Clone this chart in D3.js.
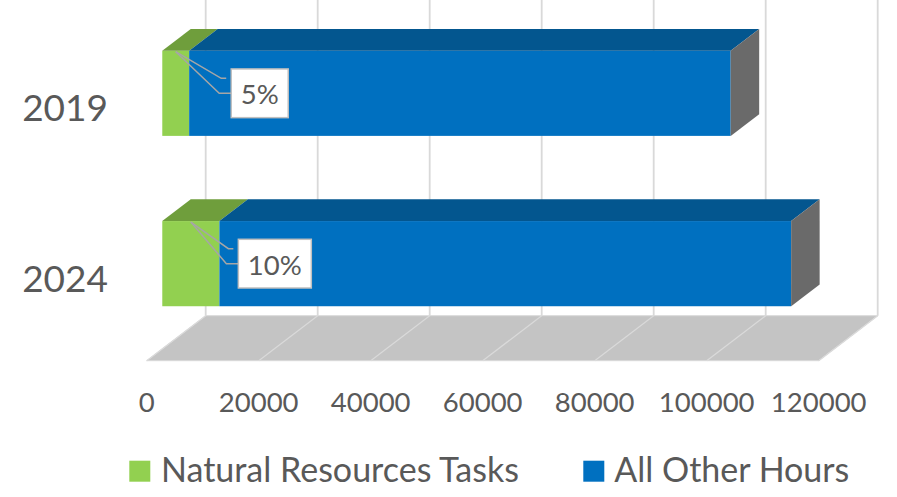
<!DOCTYPE html>
<html>
<head>
<meta charset="utf-8">
<script src="https://cdn.jsdelivr.net/npm/d3@7"></script>
<style>
  body { margin: 0; background: #fff; }
  text { font-family: Lato, "Open Sans", sans-serif; fill: #595959; }
</style>
</head>
<body>
<div id="chart"></div>
<script>
// chart data
const categories = ["2019", "2024"];
const seriesNames = ["Natural Resources Tasks", "All Other Hours"];
const naturalHours = [4800, 10200];
const otherHours = [96700, 102100];
const pctLabels = ["5%", "10%"];
const xTicks = [0, 20000, 40000, 60000, 80000, 100000, 120000];

const W = 897, H = 497;
const DX = 59, DY = -45; // oblique offset of full depth
const d0 = 0.264, d1 = 0.747; // bar depth inside the box
const floorY = 360.7;

const svg = d3.select("#chart").append("svg")
    .attr("width", W).attr("height", H);

const x = d3.scaleLinear().domain([0, 120000]).range([146.7, 818.7]);
const y = d3.scaleBand().domain(categories).range([20, floorY])
    .paddingInner(0.5).paddingOuter(0.25);

// project value / screen-y / depth to screen point
function P(v, yy, d) { return [x(v) + d * DX, yy + d * DY]; }
const pts = arr => arr.map(p => p.join(",")).join(" ");

// floor
svg.append("polygon")
    .attr("points", pts([P(0, floorY, 0), P(120000, floorY, 0), P(120000, floorY, 1), P(0, floorY, 1)]))
    .attr("fill", "#c4c4c4").attr("stroke", "#d9d9d9").attr("stroke-width", 1);

// floor gridlines
svg.selectAll(".fgrid").data(xTicks).enter().append("line")
    .attr("x1", d => P(d, floorY, 0)[0]).attr("y1", d => P(d, floorY, 0)[1])
    .attr("x2", d => P(d, floorY, 1)[0]).attr("y2", d => P(d, floorY, 1)[1])
    .attr("stroke", "#dadada").attr("stroke-width", 1.2);

// back wall gridlines
svg.selectAll(".wgrid").data(xTicks).enter().append("line")
    .attr("x1", d => P(d, floorY, 1)[0]).attr("y1", d => P(d, floorY, 1)[1])
    .attr("x2", d => P(d, 20, 1)[0]).attr("y2", d => P(d, 20, 1)[1])
    .attr("stroke", "#d9d9d9").attr("stroke-width", 1.8);

// bars
const colors = [
    {front: "#92d050", top: "#6f9e3c"},
    {front: "#0070c0", top: "#03568f"}
];
categories.forEach((c, i) => {
    let yb = y(c), bw = y.bandwidth();
    let segs = [[0, naturalHours[i]], [naturalHours[i], naturalHours[i] + otherHours[i]]];
    let g = svg.append("g");
    segs.forEach((s, k) => {
        let a = P(s[0], yb, d0), b = P(s[1], yb + bw, d0);
        g.append("rect")
            .attr("x", a[0]).attr("y", a[1])
            .attr("width", b[0] - a[0]).attr("height", b[1] - a[1])
            .attr("fill", colors[k].front);
        g.append("polygon")
            .attr("points", pts([P(s[0], yb, d0), P(s[1], yb, d0), P(s[1], yb, d1), P(s[0], yb, d1)]))
            .attr("fill", colors[k].top);
    });
    let e = segs[1][1];
    g.append("polygon")
        .attr("points", pts([P(e, yb, d0), P(e, yb, d1), P(e, yb + bw, d1), P(e, yb + bw, d0)]))
        .attr("fill", "#6a6a6a");
});

// category labels
svg.selectAll(".cat").data(categories).enter().append("text")
    .attr("x", 108)
    .attr("y", d => y(d) + y.bandwidth() / 2 + 1.5)
    .attr("dominant-baseline", "central")
    .attr("text-anchor", "end")
    .style("font-size", "37px")
    .text(d => d);

// value axis labels
svg.selectAll(".tick").data(xTicks).enter().append("text")
    .attr("x", d => x(d))
    .attr("y", 411.7)
    .attr("text-anchor", "middle")
    .style("font-size", "27.5px")
    .text(d => d);

// data labels with leader lines
categories.forEach((c, i) => {
    let yb = y(c), bw = y.bandwidth();
    let mid = P(naturalHours[i] / 2, yb, d0);
    let cy = P(0, yb + bw / 2, d0)[1];
    let t = svg.append("text")
        .attr("y", cy + 0.5)
        .attr("dominant-baseline", "central")
        .attr("text-anchor", "middle")
        .style("font-size", "27.5px")
        .text(pctLabels[i]);
    let tw = t.node().getComputedTextLength();
    let bxw = tw + 19, bxh = 48.7;
    let cx = mid[0] + 84;
    let bl = cx - bxw / 2;
    let line = d3.line();
    svg.insert("path", "text")
        .attr("d", line([[mid[0], mid[1] + 1], [bl - 10, cy - 15], [bl - 5, cy - 15]]))
        .attr("fill", "none").attr("stroke", "#a6a6a6").attr("stroke-width", 1.5);
    svg.insert("path", "text")
        .attr("d", line([[mid[0], mid[1] + 1], [bl - 12, cy], [bl, cy]]))
        .attr("fill", "none").attr("stroke", "#a6a6a6").attr("stroke-width", 1.5);
    svg.insert("rect", "text")
        .attr("x", bl).attr("y", cy - bxh / 2)
        .attr("width", bxw).attr("height", bxh)
        .attr("fill", "#fff").attr("stroke", "#bfbfbf").attr("stroke-width", 1.5);
    t.attr("x", cx);
    t.raise();
});

// legend
const legendX = [[129.3, 161], [583.3, 614.3]];
seriesNames.forEach((n, k) => {
    svg.append("rect")
        .attr("x", legendX[k][0]).attr("y", 460.7)
        .attr("width", 21).attr("height", 21)
        .attr("fill", colors[k].front);
    svg.append("text")
        .attr("x", legendX[k][1]).attr("y", 481.7)
        .style("font-size", "34px")
        .text(n);
});
</script>
</body>
</html>
